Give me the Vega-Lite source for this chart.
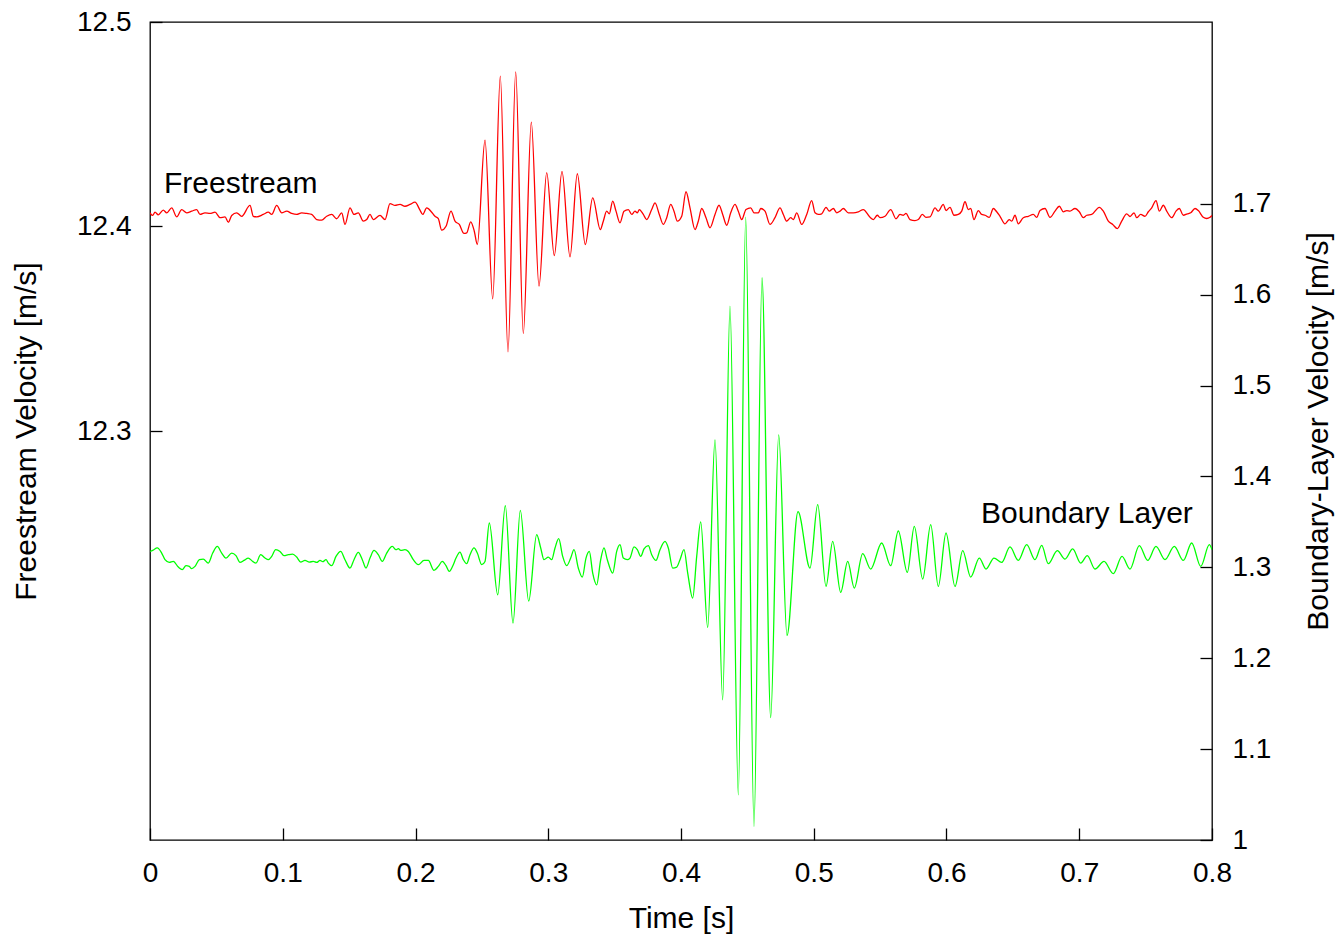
{
  "$schema": "https://vega.github.io/schema/vega-lite/v6.json",
  "width": 1062,
  "height": 818,
  "autosize": {"type": "none"},
  "padding": {"left": 150, "top": 22, "right": 125, "bottom": 96},
  "background": "white",
  "config": {
    "view": {"stroke": "black", "strokeWidth": 1.3},
    "font": "Liberation Sans",
    "axis": {
      "domain": false, "grid": false, "tickColor": "black", "tickSize": -12, "tickWidth": 1.3,
      "labelColor": "black", "labelFont": "Liberation Sans", "labelFontSize": 28, "format": "~g",
      "titleFont": "Liberation Sans", "titleFontSize": 30, "titleFontWeight": "normal", "titleColor": "black",
      "labelOverlap": false, "labelFlush": false, "labelBound": false
    }
  },
  "datasets": {
    "fs": [
      {"t":0,"v":12.4067},{"t":0.00203,"v":12.4054},{"t":0.00377,"v":12.4070},{"t":0.00625,"v":12.4057},{"t":0.01002,"v":12.4080},{"t":0.01258,"v":12.4067},{"t":0.01635,"v":12.4091},{"t":0.02011,"v":12.4047},{"t":0.02388,"v":12.4083},{"t":0.02765,"v":12.4067},{"t":0.03141,"v":12.4075},{"t":0.03518,"v":12.4083},{"t":0.03767,"v":12.4059},{"t":0.04143,"v":12.4067},{"t":0.0452,"v":12.4064},{"t":0.04897,"v":12.4070},{"t":0.05273,"v":12.4043},{"t":0.0565,"v":12.4047},{"t":0.05898,"v":12.4021},{"t":0.06154,"v":12.4054},{"t":0.06531,"v":12.4067},{"t":0.06908,"v":12.4050},{"t":0.07533,"v":12.4103},{"t":0.07782,"v":12.4050},{"t":0.08038,"v":12.4047},{"t":0.08535,"v":12.4059},{"t":0.08911,"v":12.4070},{"t":0.09168,"v":12.4059},{"t":0.09544,"v":12.4103},{"t":0.09921,"v":12.4067},{"t":0.10298,"v":12.4075},{"t":0.10674,"v":12.4064},{"t":0.11051,"v":12.4059},{"t":0.11428,"v":12.4067},{"t":0.11804,"v":12.4064},{"t":0.12181,"v":12.4059},{"t":0.12558,"v":12.4034},{"t":0.12934,"v":12.4031},{"t":0.13311,"v":12.4050},{"t":0.13688,"v":12.4059},{"t":0.14064,"v":12.4038},{"t":0.14441,"v":12.4067},{"t":0.14689,"v":12.4010},{"t":0.15066,"v":12.4091},{"t":0.15367,"v":12.4059},{"t":0.15691,"v":12.4067},{"t":0.16068,"v":12.4026},{"t":0.16324,"v":12.4034},{"t":0.16573,"v":12.4059},{"t":0.16821,"v":12.4034},{"t":0.17326,"v":12.4054},{"t":0.17703,"v":12.4034},{"t":0.18079,"v":12.4112},{"t":0.18456,"v":12.4103},{"t":0.18833,"v":12.4108},{"t":0.19209,"v":12.4099},{"t":0.19586,"v":12.4108},{"t":0.19962,"v":12.4119},{"t":0.20339,"v":12.4080},
      {"t":0.20542,"v":12.4059},{"t":0.20843,"v":12.4091},{"t":0.2122,"v":12.4070},{"t":0.21469,"v":12.4050},{"t":0.21718,"v":12.4038},{"t":0.21974,"v":12.3982},{"t":0.22298,"v":12.4001},{"t":0.22675,"v":12.4075},{"t":0.22976,"v":12.4026},{"t":0.233,"v":12.4010},{"t":0.23654,"v":12.3966},{"t":0.23857,"v":12.3969},{"t":0.24158,"v":12.4023},{"t":0.24429,"v":12.3977},{"t":0.24656,"v":12.3912},{"t":0.25236,"v":12.4422},{"t":0.25816,"v":12.3646},{"t":0.26388,"v":12.4735},{"t":0.26968,"v":12.3387},{"t":0.27548,"v":12.4756},{"t":0.28121,"v":12.3477},{"t":0.28723,"v":12.4510},{"t":0.29304,"v":12.3708},{"t":0.29884,"v":12.4263},{"t":0.30456,"v":12.3858},{"t":0.31036,"v":12.4270},{"t":0.31639,"v":12.3852},{"t":0.32189,"v":12.4258},{"t":0.32791,"v":12.3912},{"t":0.33349,"v":12.4140},{"t":0.33921,"v":12.3985},
      {"t":0.34147,"v":12.4026},{"t":0.34403,"v":12.4075},{"t":0.34599,"v":12.4062},{"t":0.34855,"v":12.4124},{"t":0.35104,"v":12.4075},{"t":0.35405,"v":12.4018},{"t":0.35706,"v":12.4075},{"t":0.36031,"v":12.4083},{"t":0.36287,"v":12.4059},{"t":0.36535,"v":12.4075},{"t":0.36709,"v":12.4067},{"t":0.36859,"v":12.4083},{"t":0.37161,"v":12.4059},{"t":0.37416,"v":12.4034},{"t":0.37793,"v":12.4083},{"t":0.38042,"v":12.4116},{"t":0.38366,"v":12.4059},{"t":0.38667,"v":12.4010},{"t":0.38923,"v":12.4043},{"t":0.39224,"v":12.4108},{"t":0.39473,"v":12.4075},{"t":0.39722,"v":12.4026},{"t":0.40053,"v":12.4050},{"t":0.40377,"v":12.4170},{"t":0.40678,"v":12.4091},{"t":0.41055,"v":12.3985},{"t":0.41303,"v":12.4026},{"t":0.41559,"v":12.4088},{"t":0.41883,"v":12.4043},{"t":0.42185,"v":12.3994},{"t":0.42561,"v":12.4059},{"t":0.42863,"v":12.4104},{"t":0.43141,"v":12.4059},{"t":0.43443,"v":12.4006},{"t":0.43744,"v":12.4067},{"t":0.44068,"v":12.4108},{"t":0.44317,"v":12.4075},{"t":0.44573,"v":12.4034},{"t":0.44897,"v":12.4083},{"t":0.45251,"v":12.4091},{"t":0.45499,"v":12.4067},{"t":0.45824,"v":12.4067},{"t":0.46004,"v":12.4088},{"t":0.46328,"v":12.4075},{"t":0.46705,"v":12.4010},{"t":0.47081,"v":12.4043},{"t":0.47458,"v":12.4091},{"t":0.47707,"v":12.4059},{"t":0.47963,"v":12.4026},{"t":0.48264,"v":12.4043},{"t":0.4846,"v":12.4034},{"t":0.48716,"v":12.4067},{"t":0.49093,"v":12.4010},{"t":0.4947,"v":12.4059},{"t":0.49846,"v":12.4127},{"t":0.50095,"v":12.4067},{"t":0.50343,"v":12.4059},{"t":0.506,"v":12.4062},{"t":0.50924,"v":12.4094},{"t":0.51172,"v":12.4075},{"t":0.51474,"v":12.4088},{"t":0.5173,"v":12.4067},{"t":0.51978,"v":12.4075},{"t":0.52227,"v":12.4088},{"t":0.52603,"v":12.4067},{"t":0.5298,"v":12.4067},{"t":0.53356,"v":12.4072},{"t":0.53733,"v":12.4083},
      {"t":0.54238,"v":12.4045},{"t":0.54486,"v":12.4034},{"t":0.54788,"v":12.4055},{"t":0.54991,"v":12.4043},{"t":0.55368,"v":12.4050},{"t":0.55797,"v":12.4083},{"t":0.56196,"v":12.4038},{"t":0.56498,"v":12.4059},{"t":0.56746,"v":12.4055},{"t":0.56949,"v":12.4064},{"t":0.57251,"v":12.4034},{"t":0.57627,"v":12.4029},{"t":0.57876,"v":12.4034},{"t":0.58177,"v":12.4059},{"t":0.58456,"v":12.4045},{"t":0.58757,"v":12.4047},{"t":0.59134,"v":12.4091},{"t":0.59383,"v":12.4075},{"t":0.59759,"v":12.4108},{"t":0.59963,"v":12.4078},{"t":0.60264,"v":12.4094},{"t":0.60565,"v":12.4055},{"t":0.6089,"v":12.4059},{"t":0.61146,"v":12.4075},{"t":0.61394,"v":12.4121},{"t":0.61643,"v":12.4083},{"t":0.61823,"v":12.4088},{"t":0.62072,"v":12.4034},{"t":0.62396,"v":12.4078},{"t":0.62652,"v":12.4059},{"t":0.62901,"v":12.4055},{"t":0.63225,"v":12.4045},{"t":0.63526,"v":12.4088},{"t":0.63782,"v":12.4072},{"t":0.64031,"v":12.4050},{"t":0.64407,"v":12.4013},{"t":0.64731,"v":12.4034},{"t":0.64912,"v":12.4026},{"t":0.6516,"v":12.4055},{"t":0.65409,"v":12.4013},{"t":0.65786,"v":12.4043},{"t":0.66162,"v":12.4050},{"t":0.66539,"v":12.4059},{"t":0.66795,"v":12.4045},{"t":0.67044,"v":12.4078},{"t":0.6742,"v":12.4088},{"t":0.67797,"v":12.4045},{"t":0.68174,"v":12.4075},{"t":0.68498,"v":12.4099},{"t":0.68799,"v":12.4072},{"t":0.69055,"v":12.4078},{"t":0.69304,"v":12.4075},{"t":0.6968,"v":12.4088},{"t":0.70005,"v":12.4072},{"t":0.70306,"v":12.4043},{"t":0.70562,"v":12.4055},{"t":0.70938,"v":12.4059},{"t":0.71511,"v":12.4094},{"t":0.71812,"v":12.4075},{"t":0.72189,"v":12.4026},{"t":0.7252,"v":12.4010},{"t":0.72867,"v":12.3990},{"t":0.73198,"v":12.4026},{"t":0.73575,"v":12.4062},{"t":0.73823,"v":12.4049},{"t":0.74125,"v":12.4067},{"t":0.74328,"v":12.4043},{"t":0.74629,"v":12.4059},{"t":0.74953,"v":12.4050},{"t":0.75202,"v":12.4072},{"t":0.75458,"v":12.4091},{"t":0.75782,"v":12.4127},{"t":0.76031,"v":12.4075},{"t":0.76332,"v":12.4104},{"t":0.76588,"v":12.4075},{"t":0.76964,"v":12.4043},{"t":0.77289,"v":12.4075},{"t":0.77537,"v":12.4088},{"t":0.77839,"v":12.4055},{"t":0.7814,"v":12.4062},{"t":0.78396,"v":12.4067},{"t":0.7872,"v":12.4088},{"t":0.78969,"v":12.4078},{"t":0.79345,"v":12.4045},{"t":0.79601,"v":12.4039},{"t":0.7985,"v":12.4045},{"t":0.8,"v":12.4054}
    ],
    "bl": [
      {"t":0,"v":1.3175},{"t":0.00203,"v":1.3186},{"t":0.0055,"v":1.3213},{"t":0.00881,"v":1.3157},{"t":0.0113,"v":1.3084},{"t":0.01454,"v":1.3054},{"t":0.01755,"v":1.3065},{"t":0.02132,"v":1.3003},{"t":0.02433,"v":1.2974},{"t":0.02712,"v":1.3018},{"t":0.0296,"v":1.3010},{"t":0.03141,"v":1.2985},{"t":0.0339,"v":1.3010},{"t":0.03714,"v":1.3084},{"t":0.04015,"v":1.3091},{"t":0.04392,"v":1.3047},{"t":0.04723,"v":1.3157},{"t":0.0507,"v":1.3230},{"t":0.05401,"v":1.3157},{"t":0.05725,"v":1.3102},{"t":0.06154,"v":1.3157},{"t":0.06478,"v":1.3128},{"t":0.0678,"v":1.3054},{"t":0.07081,"v":1.3076},{"t":0.07405,"v":1.3102},{"t":0.07736,"v":1.3065},{"t":0.07985,"v":1.3047},{"t":0.08339,"v":1.3139},{"t":0.08663,"v":1.3102},{"t":0.08911,"v":1.3084},{"t":0.09168,"v":1.3120},{"t":0.09469,"v":1.3194},{"t":0.09793,"v":1.3175},{"t":0.10094,"v":1.3128},{"t":0.10418,"v":1.3139},{"t":0.1075,"v":1.3146},{"t":0.11051,"v":1.3113},{"t":0.11352,"v":1.3058},{"t":0.11676,"v":1.3076},{"t":0.12,"v":1.3058},{"t":0.12301,"v":1.3065},{"t":0.12558,"v":1.3054},{"t":0.12806,"v":1.3076},{"t":0.1301,"v":1.3062},{"t":0.13258,"v":1.3084},{"t":0.13431,"v":1.3047},{"t":0.13688,"v":1.3018},{"t":0.14011,"v":1.3120},{"t":0.14366,"v":1.3175},{"t":0.14689,"v":1.3084},{"t":0.15066,"v":1.2992},{"t":0.15367,"v":1.3084},{"t":0.15691,"v":1.3164},{"t":0.15993,"v":1.3084},{"t":0.16271,"v":1.2992},{"t":0.16573,"v":1.3102},{"t":0.16874,"v":1.3186},{"t":0.17198,"v":1.3139},{"t":0.17499,"v":1.3065},{"t":0.17831,"v":1.3157},{"t":0.18253,"v":1.3230},{"t":0.18531,"v":1.3194},{"t":0.18705,"v":1.3205},{"t":0.18885,"v":1.3186},{"t":0.19209,"v":1.3194},{"t":0.19458,"v":1.3175},{"t":0.19834,"v":1.3084},{"t":0.20211,"v":1.3029},
      {"t":0.2064,"v":1.3076},{"t":0.20965,"v":1.3076},{"t":0.21394,"v":1.2966},{"t":0.21718,"v":1.3010},{"t":0.22019,"v":1.3065},{"t":0.22298,"v":1.3018},{"t":0.22546,"v":1.2955},{"t":0.22848,"v":1.3029},{"t":0.23051,"v":1.3102},{"t":0.23352,"v":1.3168},{"t":0.23601,"v":1.3084},{"t":0.23857,"v":1.3040},{"t":0.24106,"v":1.3139},{"t":0.24407,"v":1.3213},{"t":0.24656,"v":1.3157},{"t":0.24987,"v":1.3029},{"t":0.25236,"v":1.3065},{"t":0.2556,"v":1.3488},{"t":0.26193,"v":1.2698},{"t":0.26765,"v":1.3678},{"t":0.27345,"v":1.2387},{"t":0.27895,"v":1.3627},{"t":0.28528,"v":1.2629},{"t":0.2913,"v":1.3359},{"t":0.29432,"v":1.3213},{"t":0.2968,"v":1.3084},{"t":0.30004,"v":1.3113},{"t":0.3026,"v":1.3084},{"t":0.30509,"v":1.3213},{"t":0.30788,"v":1.3315},{"t":0.31089,"v":1.3120},{"t":0.3139,"v":1.3018},{"t":0.31691,"v":1.3102},{"t":0.3194,"v":1.3194},{"t":0.32264,"v":1.2992},{"t":0.32565,"v":1.2893},{"t":0.32844,"v":1.3102},{"t":0.33093,"v":1.3175},{"t":0.33349,"v":1.2937},{"t":0.3365,"v":1.2808},{"t":0.33951,"v":1.3084},{"t":0.342,"v":1.3213},{"t":0.34449,"v":1.3084},{"t":0.34855,"v":1.2937},{"t":0.35156,"v":1.3175},{"t":0.35405,"v":1.3249},{"t":0.35654,"v":1.3102},{"t":0.35955,"v":1.3084},{"t":0.36158,"v":1.3102},{"t":0.3646,"v":1.3224},{"t":0.36709,"v":1.3194},{"t":0.36965,"v":1.3120},{"t":0.37213,"v":1.3202},{"t":0.37537,"v":1.3238},{"t":0.37793,"v":1.3139},{"t":0.38117,"v":1.3076},{"t":0.38418,"v":1.3194},{"t":0.38795,"v":1.3285},{"t":0.39044,"v":1.3213},{"t":0.39375,"v":1.2992},{"t":0.39676,"v":1.3003},{"t":0.39925,"v":1.3084},{"t":0.40226,"v":1.3194},{"t":0.40505,"v":1.2937},{"t":0.40881,"v":1.2662},{"t":0.41183,"v":1.3120},
      {"t":0.41484,"v":1.3501},{"t":0.42012,"v":1.2338},{"t":0.42561,"v":1.4402},{"t":0.43141,"v":1.1542},{"t":0.43691,"v":1.5873},{"t":0.44317,"v":1.0497},{"t":0.44874,"v":1.6852},{"t":0.45499,"v":1.0149},{"t":0.46102,"v":1.6186},{"t":0.46757,"v":1.1346},{"t":0.4736,"v":1.4458},{"t":0.47985,"v":1.2251},{"t":0.48814,"v":1.3612},{"t":0.49718,"v":1.2992},{"t":0.50298,"v":1.3689},{"t":0.50924,"v":1.2790},{"t":0.51428,"v":1.3285},{"t":0.5203,"v":1.2724},{"t":0.52558,"v":1.3065},{"t":0.53055,"v":1.2772},{"t":0.53688,"v":1.3150},{"t":0.5429,"v":1.2981},{"t":0.55119,"v":1.3268},{"t":0.55797,"v":1.3018},{"t":0.5637,"v":1.3400},{"t":0.57048,"v":1.2944},{"t":0.57575,"v":1.3450},{"t":0.58208,"v":1.2871},{"t":0.5881,"v":1.3469},{"t":0.59383,"v":1.2790},{"t":0.59963,"v":1.3378},{"t":0.60641,"v":1.2790},{"t":0.61221,"v":1.3183},{"t":0.61823,"v":1.2893},{"t":0.62471,"v":1.3102},{"t":0.62976,"v":1.2981},{"t":0.63578,"v":1.3102},{"t":0.64158,"v":1.3054},{"t":0.64784,"v":1.3224},{"t":0.65409,"v":1.3076},{"t":0.66042,"v":1.3249},{"t":0.66667,"v":1.3084},{"t":0.67172,"v":1.3241},{"t":0.67669,"v":1.3040},{"t":0.68347,"v":1.3183},{"t":0.68927,"v":1.3091},{"t":0.69507,"v":1.3202},{"t":0.70109,"v":1.3047},{"t":0.70607,"v":1.3128},{"t":0.71187,"v":1.2981},{"t":0.71865,"v":1.3065},{"t":0.72566,"v":1.2930},{"t":0.73221,"v":1.3120},{"t":0.73823,"v":1.2981},{"t":0.74524,"v":1.3238},{"t":0.75157,"v":1.3076},{"t":0.7578,"v":1.3230},{"t":0.7646,"v":1.3084},{"t":0.7716,"v":1.3230},{"t":0.77839,"v":1.3076},{"t":0.78471,"v":1.3268},{"t":0.79149,"v":1.3010},{"t":0.798,"v":1.3249},{"t":0.8,"v":1.3194}
    ]
  },
  "layer": [
    {
      "layer": [
        {
          "data": {"name": "fs"},
          "mark": {"type": "line", "color": "#ff0000", "strokeWidth": 1.3, "interpolate": "monotone", "clip": true},
          "encoding": {
            "x": {"field": "t", "type": "quantitative", "scale": {"domain": [0, 0.8], "nice": false},
                  "axis": {"orient": "bottom", "values": [0, 0.1, 0.2, 0.3, 0.4, 0.5, 0.6, 0.7, 0.8], "labelPadding": 31,
                           "title": "Time [s]", "titleX": 531, "titleY": 87, "titleBaseline": "alphabetic", "titleAlign": "center"}},
            "y": {"field": "v", "type": "quantitative", "scale": {"domain": [12.1, 12.5], "nice": false, "zero": false},
                  "axis": {"orient": "left", "values": [12.3, 12.4, 12.5], "labelPadding": 31,
                           "title": "Freestream Velocity [m/s]", "titleAngle": -90, "titleX": -115, "titleY": 409,
                           "titleBaseline": "alphabetic", "titleAlign": "center"}}
          }
        },
        {
          "data": {"values": [{"t": 0.01055, "v": 12.4165, "label": "Freestream"}]},
          "mark": {"type": "text", "align": "left", "baseline": "alphabetic", "fontSize": 30, "font": "Liberation Sans", "color": "black"},
          "encoding": {
            "x": {"field": "t", "type": "quantitative", "scale": {"domain": [0, 0.8], "nice": false}},
            "y": {"field": "v", "type": "quantitative", "scale": {"domain": [12.1, 12.5], "nice": false, "zero": false}},
            "text": {"field": "label"}
          }
        }
      ]
    },
    {
      "layer": [
        {
          "data": {"name": "bl"},
          "mark": {"type": "line", "color": "#00ff00", "strokeWidth": 1.3, "interpolate": "monotone", "clip": true},
          "encoding": {
            "x": {"field": "t", "type": "quantitative", "scale": {"domain": [0, 0.8], "nice": false}},
            "y": {"field": "v", "type": "quantitative", "scale": {"domain": [1, 1.9], "nice": false, "zero": false},
                  "axis": {"orient": "right", "values": [1, 1.1, 1.2, 1.3, 1.4, 1.5, 1.6, 1.7], "labelPadding": 32,
                           "title": "Boundary-Layer Velocity [m/s]", "titleAngle": -90, "titleX": 115, "titleY": 409,
                           "titleBaseline": "alphabetic", "titleAlign": "center"}}
          }
        },
        {
          "data": {"values": [{"t": 0.626, "v": 1.3488, "label": "Boundary Layer"}]},
          "mark": {"type": "text", "align": "left", "baseline": "alphabetic", "fontSize": 30, "font": "Liberation Sans", "color": "black"},
          "encoding": {
            "x": {"field": "t", "type": "quantitative", "scale": {"domain": [0, 0.8], "nice": false}},
            "y": {"field": "v", "type": "quantitative", "scale": {"domain": [1, 1.9], "nice": false, "zero": false}},
            "text": {"field": "label"}
          }
        }
      ]
    }
  ],
  "resolve": {"scale": {"y": "independent"}}
}
